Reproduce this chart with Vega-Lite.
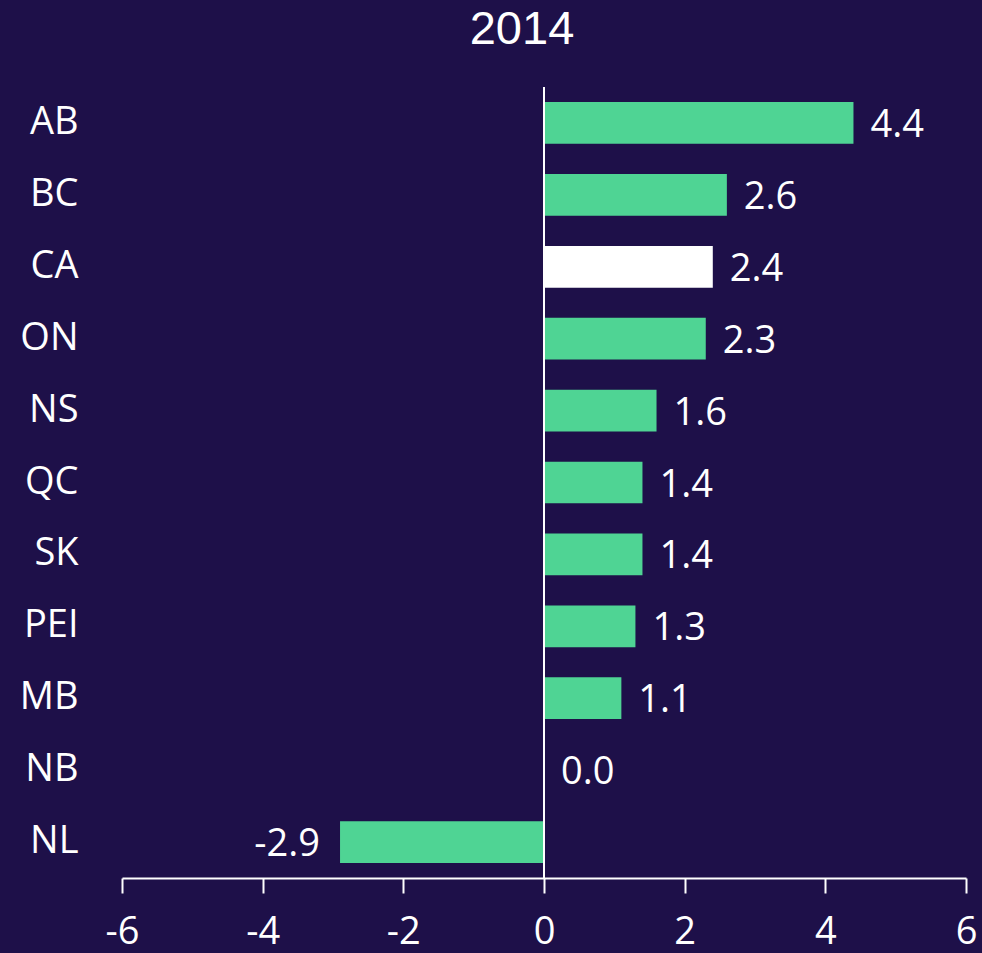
{
  "$schema": "https://vega.github.io/schema/vega-lite/v6.json",
  "width": 844,
  "height": 791,
  "autosize": "none",
  "padding": {"left": 122, "top": 87, "right": 16, "bottom": 75},
  "background": "#1e1049",
  "title": {
    "text": "2014",
    "font": "Liberation Sans",
    "fontSize": 47,
    "fontWeight": "normal",
    "color": "white",
    "offset": 32,
    "frame": "group",
    "dx": -22
  },
  "config": {
    "view": {"stroke": null},
    "axis": {"grid": false}
  },
  "data": {
    "values": [
      {"prov": "AB", "value": 4.4, "label": "4.4", "highlight": "no"},
      {"prov": "BC", "value": 2.6, "label": "2.6", "highlight": "no"},
      {"prov": "CA", "value": 2.4, "label": "2.4", "highlight": "yes"},
      {"prov": "ON", "value": 2.3, "label": "2.3", "highlight": "no"},
      {"prov": "NS", "value": 1.6, "label": "1.6", "highlight": "no"},
      {"prov": "QC", "value": 1.4, "label": "1.4", "highlight": "no"},
      {"prov": "SK", "value": 1.4, "label": "1.4", "highlight": "no"},
      {"prov": "PEI", "value": 1.3, "label": "1.3", "highlight": "no"},
      {"prov": "MB", "value": 1.1, "label": "1.1", "highlight": "no"},
      {"prov": "NB", "value": 0.0, "label": "0.0", "highlight": "no"},
      {"prov": "NL", "value": -2.9, "label": "-2.9", "highlight": "no"}
    ]
  },
  "encoding": {
    "y": {
      "field": "prov",
      "type": "nominal",
      "sort": null,
      "scale": {"paddingInner": 0.42, "paddingOuter": 0.21},
      "axis": {
        "title": null,
        "domain": false,
        "ticks": false,
        "labelPadding": 44,
        "labelFont": "Open Sans",
        "labelFontSize": 38,
        "labelColor": "white"
      }
    },
    "x": {
      "field": "value",
      "type": "quantitative",
      "scale": {"domain": [-6, 6], "nice": false},
      "axis": {
        "title": null,
        "values": [-6, -4, -2, 0, 2, 4, 6],
        "labelExpr": "replace(datum.label, '−', '-')",
        "domainColor": "white",
        "domainWidth": 2,
        "tickColor": "white",
        "tickWidth": 2,
        "tickSize": 15,
        "labelFont": "Open Sans",
        "labelFontSize": 38,
        "labelColor": "white",
        "labelPadding": 20,
        "labelFlush": false
      }
    }
  },
  "layer": [
    {
      "mark": {"type": "bar"},
      "encoding": {
        "color": {
          "field": "highlight",
          "type": "nominal",
          "scale": {"domain": ["no", "yes"], "range": ["#4fd494", "#ffffff"]},
          "legend": null
        }
      }
    },
    {
      "mark": {"type": "rule", "color": "white", "strokeWidth": 1.5},
      "encoding": {
        "x": {"datum": 0},
        "y": null
      }
    },
    {
      "transform": [{"filter": "datum.value >= 0"}],
      "mark": {"type": "text", "align": "left", "dx": 17, "dy": 3, "font": "Open Sans", "fontSize": 38, "color": "white"},
      "encoding": {"text": {"field": "label", "type": "nominal"}}
    },
    {
      "transform": [{"filter": "datum.value < 0"}],
      "mark": {"type": "text", "align": "right", "dx": -20, "dy": 3, "font": "Open Sans", "fontSize": 38, "color": "white"},
      "encoding": {"text": {"field": "label", "type": "nominal"}}
    }
  ]
}
